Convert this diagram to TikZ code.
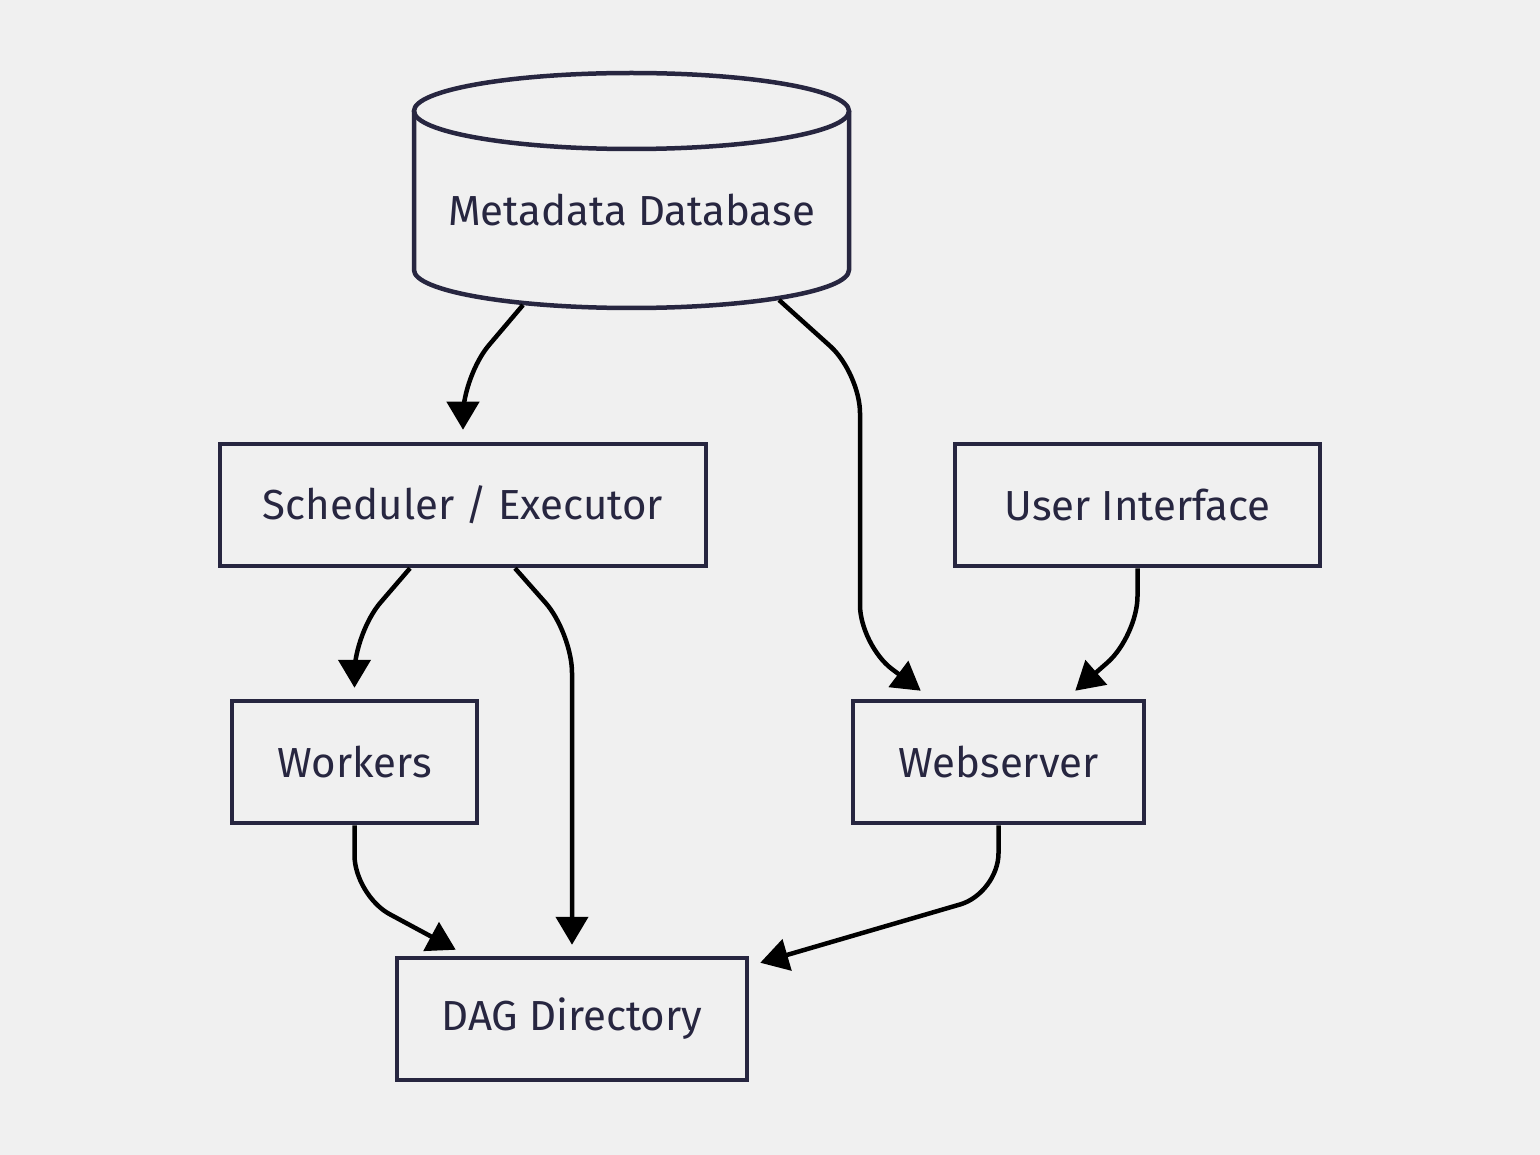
\documentclass[tikz,border=0pt]{standalone}
\usepackage{fontspec}
\setmainfont{Fira Sans}
\usetikzlibrary{arrows.meta,calc}
\definecolor{bg}{HTML}{F0F0F0}
\definecolor{ink}{HTML}{272640}
\tikzset{
  box/.style={draw=ink, line width=4.5pt, fill=bg, minimum height=122pt, inner sep=0pt,
    font=\fontsize{42}{46}\selectfont, text=ink},
  arr/.style={draw=black, line width=4.5pt, rounded corners=40pt,
    -{Triangle[length=28pt,width=32pt]}},
  lbl/.style={font=\fontsize{42}{46}\selectfont, text=ink, inner sep=0pt}
}
\begin{document}
\begin{tikzpicture}[x=1pt,y=-1pt]
\fill[bg] (0,0) rectangle (1540,1155);
\useasboundingbox (0,0) rectangle (1540,1155);
% cylinder
\draw[draw=ink, line width=4.5pt, fill=bg] (414,111) -- (414,270) arc[start angle=180,end angle=360,x radius=217.5pt,y radius=38pt] -- (849,111);
\draw[draw=ink, line width=4.5pt] (631.5,111) ellipse [x radius=217.5pt, y radius=38pt];
\node[lbl] (db) at (631.5,210) {Metadata Database};
% boxes
\node[box, minimum width=486pt] (sched) at (463,505) {Scheduler / Executor};
\node[box, minimum width=365pt] (ui) at (1137.5,505) {User Interface};
\node[box, minimum width=245pt] (workers) at (354.5,762) {Workers};
\node[box, minimum width=291pt] (web) at (998.5,762) {Webserver};
\node[box, minimum width=350pt] (dag) at (572,1019) {DAG Directory};
% connectors
\draw[arr, shorten >=12pt] ($(db.center)+(-108.5,95)$) -- ($(sched.north)+(0,-66)$) -- (sched.north);
\draw[arr] ($(db.center)+(147.5,90)$) -- (860,373) -- (860,645) -- ($(web.north west)+(70,-8)$);
\draw[arr, shorten >=11pt] ($(sched.south)+(-53,0)$) -- ($(workers.north)+(0,-66)$) -- (workers.north);
\draw[arr, shorten >=11pt] ($(sched.south)+(52,0)$) -- ($(dag.north)+(0,-323)$) -- (dag.north);
\draw[arr] (workers.south) -- ($(workers.south)+(0,70)$) -- ($(dag.north west)+(61,-6)$);
\draw[arr] (ui.south) -- ($(ui.south)+(0,68)$) -- ($(web.north east)+(-71,-8)$);
\draw[arr] (web.south) -- ($(web.south)+(0,68)$) -- ($(dag.north east)+(11,7)$);
\end{tikzpicture}
\end{document}
